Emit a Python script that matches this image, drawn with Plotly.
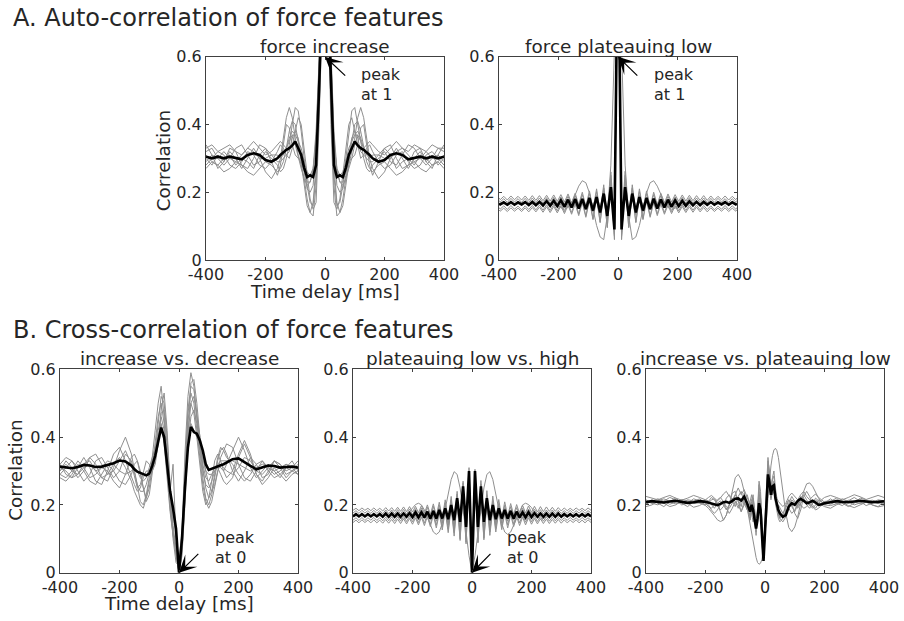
import plotly.graph_objects as go

W, H = 904, 621

# ---------------- lags (ms) ----------------
lag_coarse = list(range(-400, -159, 20)) + list(range(-150, 151, 10)) + list(range(160, 401, 20))
lag_plateau = [-400] + list(range(-396, 397, 12)) + [400]
lag_lowhigh = list(range(-400, 401, 10))
lag_incplat = (list(range(-400, -219, 20)) + list(range(-200, -49, 10)) + list(range(-45, 46, 5))
               + list(range(50, 201, 10)) + list(range(220, 401, 20)))

x_ticks = [-400, -200, 0, 200, 400]
x_tick_labels = ["-400", "-200", "0", "200", "400"]
y_ticks = [0, 0.2, 0.4, 0.6]
y_tick_labels = ["0", "0.2", "0.4", "0.6"]

section_titles = ["A. Auto-correlation of force features", "B. Cross-correlation of force features"]
panel_titles = ["force increase", "force plateauing low", "increase vs. decrease",
                "plateauing low vs. high", "increase vs. plateauing low"]

# ---------------- A1: force increase ----------------
inc_mean = [0.305,0.300,0.305,0.300,0.305,0.300,0.297,0.310,0.315,0.310,0.295,0.290,0.300,
            0.310,0.318,0.325,0.330,0.338,0.350,0.332,0.310,0.272,0.245,0.250,0.245,0.280,0.500,0.780,
            1.000,
            0.780,0.500,0.280,0.245,0.250,0.245,0.272,0.310,0.332,0.350,0.338,0.330,0.325,0.318,0.310,
            0.300,0.290,0.295,0.310,0.315,0.310,0.297,0.300,0.305,0.300,0.305,0.300,0.305]
inc_grey = [
    [0.30,0.28,0.31,0.29,0.32,0.30,0.27,0.30,0.33,0.30,0.26,0.24,0.27,
     0.30,0.36,0.42,0.45,0.42,0.36,0.31,0.28,0.24,0.18,0.14,0.13,0.22,0.45,0.80,1.00,0.80,0.45,0.22,0.13,0.14,0.18,0.24,0.28,0.31,0.36,0.42,0.45,0.42,0.36,0.30,
     0.27,0.24,0.26,0.30,0.33,0.30,0.27,0.30,0.32,0.29,0.31,0.28,0.30],
    [0.32,0.33,0.30,0.28,0.30,0.33,0.34,0.31,0.28,0.29,0.32,0.30,0.28,
     0.26,0.27,0.30,0.34,0.40,0.45,0.44,0.38,0.30,0.22,0.17,0.16,0.25,0.48,0.82,1.00,0.82,0.48,0.25,0.16,0.17,0.22,0.30,0.38,0.44,0.45,0.40,0.34,0.30,0.27,0.26,
     0.28,0.30,0.32,0.29,0.28,0.31,0.34,0.33,0.30,0.28,0.30,0.33,0.32],
    [0.28,0.30,0.32,0.31,0.28,0.27,0.29,0.32,0.31,0.28,0.27,0.29,0.32,
     0.34,0.33,0.31,0.32,0.36,0.38,0.36,0.31,0.25,0.21,0.20,0.22,0.33,0.55,0.84,1.00,0.84,0.55,0.33,0.22,0.20,0.21,0.25,0.31,0.36,0.38,0.36,0.32,0.31,0.33,0.34,
     0.32,0.29,0.27,0.28,0.31,0.32,0.29,0.27,0.28,0.31,0.32,0.30,0.28],
    [0.34,0.31,0.27,0.29,0.33,0.32,0.28,0.27,0.30,0.34,0.33,0.29,0.25,
     0.28,0.34,0.40,0.39,0.34,0.31,0.30,0.29,0.26,0.23,0.23,0.26,0.36,0.58,0.85,1.00,0.85,0.58,0.36,0.26,0.23,0.23,0.26,0.29,0.30,0.31,0.34,0.39,0.40,0.34,0.28,
     0.25,0.29,0.33,0.34,0.30,0.27,0.28,0.32,0.33,0.29,0.27,0.31,0.34],
    [0.29,0.31,0.30,0.32,0.30,0.29,0.31,0.33,0.32,0.30,0.30,0.31,0.31,
     0.30,0.31,0.33,0.36,0.38,0.37,0.35,0.33,0.29,0.26,0.25,0.27,0.34,0.52,0.80,1.00,0.80,0.52,0.34,0.27,0.25,0.26,0.29,0.33,0.35,0.37,0.38,0.36,0.33,0.31,0.30,
     0.31,0.31,0.30,0.30,0.32,0.33,0.31,0.29,0.30,0.32,0.30,0.31,0.29],
    [0.31,0.29,0.28,0.30,0.31,0.28,0.30,0.29,0.27,0.31,0.33,0.31,0.29,
     0.29,0.30,0.31,0.30,0.33,0.38,0.42,0.40,0.33,0.25,0.18,0.15,0.17,0.40,0.76,1.00,0.76,0.40,0.17,0.15,0.18,0.25,0.33,0.40,0.42,0.38,0.33,0.30,0.31,0.30,0.29,
     0.29,0.31,0.33,0.31,0.27,0.29,0.30,0.28,0.31,0.30,0.28,0.29,0.31],
    [0.27,0.29,0.28,0.26,0.27,0.29,0.28,0.26,0.25,0.27,0.29,0.28,0.26,
     0.27,0.29,0.33,0.38,0.41,0.40,0.35,0.29,0.22,0.16,0.14,0.17,0.28,0.50,0.80,1.00,0.80,0.50,0.28,0.17,0.14,0.16,0.22,0.29,0.35,0.40,0.41,0.38,0.33,0.29,0.27,
     0.26,0.28,0.29,0.27,0.25,0.26,0.28,0.29,0.27,0.26,0.28,0.29,0.27],
    [0.33,0.34,0.32,0.33,0.34,0.32,0.31,0.33,0.35,0.33,0.31,0.32,0.34,
     0.35,0.34,0.33,0.35,0.37,0.34,0.30,0.27,0.24,0.22,0.23,0.27,0.38,0.60,0.86,1.00,0.86,0.60,0.38,0.27,0.23,0.22,0.24,0.27,0.30,0.34,0.37,0.35,0.33,0.34,0.35,
     0.34,0.32,0.31,0.33,0.35,0.33,0.32,0.34,0.33,0.32,0.34,0.33,0.33],
]

# ---------------- A2: force plateauing low ----------------
plat_mean = ([0.167,0.164,0.170,0.163,0.171,0.163,0.170,0.164,0.171,0.162,0.172,0.162,0.172,0.161,0.174,0.160,0.175,
              0.159,0.176,0.157,0.178,0.155,0.180,0.152,0.180,0.150,0.183,0.146,0.186,0.140,0.196,0.130,0.215,0.090]
             + [1.0] +
             [0.090,0.215,0.130,0.196,0.140,0.186,0.146,0.183,0.150,0.181,0.152,0.179,0.155,0.178,0.157,0.176,0.159,
              0.175,0.160,0.173,0.161,0.172,0.162,0.172,0.163,0.171,0.163,0.170,0.164,0.171,0.163,0.170,0.164,0.167])
plat_grey = [
    [0.155,0.150,0.160,0.149,0.161,0.150,0.159,0.148,0.160,0.149,0.161,0.148,0.162,0.147,0.163,0.146,0.164,0.145,0.166,0.143,0.168,0.140,0.172,0.136,0.176,0.130,0.182,0.122,0.190,0.112,0.205,0.095,0.250,0.060,
     1.0,
     0.060,0.250,0.095,0.205,0.112,0.190,0.122,0.182,0.130,0.176,0.136,0.172,0.140,0.168,0.143,0.166,0.145,0.164,0.146,0.163,0.147,0.162,0.148,0.161,0.149,0.160,0.148,0.159,0.150,0.161,0.149,0.160,0.150,0.155],
    [0.176,0.171,0.181,0.170,0.182,0.171,0.181,0.170,0.182,0.169,0.183,0.169,0.183,0.168,0.184,0.167,0.185,0.166,0.186,0.165,0.188,0.163,0.190,0.160,0.193,0.156,0.197,0.150,0.202,0.143,0.212,0.130,0.240,0.110,
     1.0,
     0.110,0.240,0.130,0.212,0.143,0.202,0.150,0.197,0.156,0.193,0.160,0.190,0.163,0.188,0.165,0.186,0.166,0.185,0.167,0.184,0.168,0.183,0.169,0.183,0.169,0.182,0.170,0.182,0.171,0.181,0.170,0.181,0.171,0.176],
    [0.166,0.162,0.169,0.161,0.170,0.162,0.169,0.161,0.170,0.160,0.171,0.160,0.171,0.159,0.172,0.158,0.173,0.157,0.174,0.156,0.176,0.154,0.178,0.151,0.181,0.148,0.185,0.142,0.190,0.134,0.200,0.118,0.225,0.075,
     1.0,
     0.075,0.228,0.118,0.200,0.134,0.190,0.142,0.185,0.148,0.181,0.151,0.178,0.154,0.176,0.156,0.174,0.157,0.173,0.158,0.172,0.159,0.171,0.160,0.171,0.160,0.170,0.161,0.169,0.162,0.170,0.161,0.169,0.162,0.166],
    [0.148,0.144,0.153,0.143,0.154,0.144,0.153,0.143,0.154,0.142,0.155,0.142,0.156,0.141,0.157,0.140,0.158,0.139,0.160,0.137,0.162,0.135,0.165,0.131,0.169,0.126,0.175,0.119,0.182,0.110,0.195,0.098,0.235,0.070,
     1.0,
     0.070,0.232,0.098,0.195,0.110,0.182,0.119,0.175,0.126,0.169,0.131,0.165,0.135,0.162,0.137,0.160,0.139,0.158,0.140,0.157,0.141,0.156,0.142,0.155,0.142,0.154,0.143,0.153,0.144,0.154,0.143,0.153,0.144,0.149],
    [0.183,0.178,0.188,0.177,0.189,0.178,0.188,0.177,0.189,0.176,0.190,0.176,0.190,0.175,0.191,0.174,0.192,0.173,0.193,0.171,0.195,0.168,0.197,0.164,0.200,0.158,0.204,0.150,0.210,0.140,0.222,0.120,0.260,0.100,
     1.0,
     0.100,0.262,0.120,0.222,0.140,0.210,0.150,0.204,0.158,0.200,0.164,0.197,0.168,0.195,0.171,0.193,0.173,0.192,0.174,0.191,0.175,0.190,0.176,0.190,0.176,0.189,0.177,0.188,0.178,0.189,0.177,0.188,0.178,0.183],
    [0.166,0.166,0.167,0.165,0.166,0.167,0.165,0.166,0.168,0.167,0.165,0.164,0.166,0.168,0.169,0.167,0.163,0.158,0.153,0.150,0.155,0.170,0.192,0.218,0.234,0.228,0.198,0.150,0.102,0.068,0.060,0.130,0.280,0.620,
     1.0,
     0.620,0.280,0.130,0.060,0.068,0.102,0.150,0.198,0.228,0.234,0.218,0.192,0.170,0.155,0.150,0.153,0.158,0.163,0.167,0.169,0.168,0.166,0.164,0.165,0.167,0.168,0.166,0.165,0.167,0.166,0.165,0.167,0.166,0.166],
]

# ---------------- B1: increase vs. decrease ----------------
incdec_mean = [0.313,0.310,0.308,0.312,0.318,0.316,0.312,0.313,0.318,0.323,0.331,0.328,0.316,
               0.305,0.298,0.294,0.290,0.287,0.292,0.315,0.345,0.385,0.428,0.400,0.310,0.240,0.190,0.130,
               0.000,
               0.100,0.250,0.370,0.430,0.415,0.410,0.390,0.360,0.320,0.303,0.307,0.310,0.315,0.317,0.320,
               0.325,0.335,0.337,0.325,0.315,0.305,0.310,0.316,0.315,0.310,0.312,0.313,0.310]
incdec_grey = [
    [0.30,0.33,0.31,0.28,0.30,0.34,0.32,0.28,0.27,0.31,0.36,0.40,0.35,
     0.30,0.25,0.21,0.20,0.23,0.28,0.34,0.42,0.50,0.55,0.46,0.32,0.20,0.12,0.06,0.00,0.12,0.35,0.52,0.59,0.55,0.45,0.36,0.28,0.22,0.20,0.23,0.28,0.33,0.36,0.37,
     0.35,0.30,0.27,0.30,0.34,0.32,0.28,0.29,0.33,0.32,0.29,0.30,0.31],
    [0.32,0.29,0.28,0.31,0.34,0.31,0.27,0.26,0.30,0.35,0.37,0.33,0.28,
     0.26,0.24,0.25,0.28,0.30,0.30,0.31,0.36,0.45,0.52,0.50,0.40,0.25,0.10,0.03,0.02,0.08,0.28,0.48,0.55,0.54,0.47,0.37,0.30,0.26,0.25,0.27,0.30,0.31,0.29,0.27,
     0.26,0.28,0.34,0.38,0.34,0.29,0.27,0.30,0.33,0.31,0.28,0.30,0.32],
    [0.29,0.31,0.33,0.30,0.27,0.29,0.33,0.34,0.31,0.28,0.30,0.35,0.33,
     0.29,0.26,0.24,0.24,0.26,0.30,0.33,0.36,0.40,0.44,0.38,0.28,0.18,0.11,0.08,0.00,0.05,0.20,0.38,0.46,0.48,0.44,0.38,0.32,0.28,0.27,0.29,0.31,0.32,0.31,0.30,
     0.32,0.36,0.40,0.36,0.31,0.28,0.30,0.32,0.30,0.28,0.31,0.33,0.30],
    [0.31,0.30,0.28,0.29,0.32,0.33,0.30,0.28,0.29,0.32,0.34,0.31,0.27,
     0.24,0.22,0.20,0.19,0.22,0.27,0.30,0.33,0.38,0.48,0.53,0.42,0.26,0.14,0.07,0.03,0.10,0.30,0.47,0.53,0.50,0.42,0.33,0.26,0.21,0.19,0.21,0.25,0.30,0.34,0.36,
     0.38,0.37,0.32,0.28,0.27,0.30,0.33,0.31,0.29,0.30,0.32,0.31,0.29],
    [0.30,0.32,0.30,0.29,0.31,0.32,0.30,0.31,0.33,0.32,0.30,0.29,0.30,
     0.31,0.30,0.28,0.27,0.28,0.31,0.34,0.37,0.40,0.42,0.39,0.33,0.25,0.17,0.10,0.04,0.12,0.28,0.40,0.44,0.42,0.40,0.37,0.33,0.30,0.29,0.29,0.30,0.32,0.33,0.33,
     0.33,0.33,0.32,0.31,0.30,0.31,0.32,0.31,0.30,0.31,0.32,0.31,0.31],
    [0.28,0.27,0.29,0.32,0.30,0.27,0.26,0.29,0.32,0.30,0.27,0.26,0.29,
     0.32,0.33,0.30,0.25,0.22,0.25,0.31,0.38,0.46,0.50,0.44,0.34,0.24,0.32,0.10,0.01,0.10,0.30,0.45,0.50,0.47,0.40,0.31,0.24,0.20,0.22,0.27,0.33,0.35,0.33,0.30,
     0.28,0.30,0.35,0.39,0.35,0.29,0.26,0.28,0.31,0.29,0.27,0.29,0.30],
    [0.32,0.34,0.33,0.31,0.32,0.34,0.35,0.32,0.29,0.30,0.33,0.36,0.32,
     0.28,0.25,0.26,0.30,0.33,0.32,0.30,0.32,0.38,0.47,0.48,0.37,0.22,0.12,0.05,0.00,0.06,0.22,0.40,0.50,0.52,0.46,0.40,0.35,0.30,0.26,0.24,0.26,0.30,0.32,0.31,
     0.30,0.29,0.31,0.34,0.33,0.30,0.29,0.31,0.33,0.32,0.30,0.31,0.33],
    [0.29,0.28,0.30,0.33,0.31,0.28,0.29,0.31,0.30,0.27,0.25,0.29,0.34,
     0.35,0.33,0.29,0.25,0.21,0.23,0.29,0.35,0.42,0.46,0.42,0.30,0.19,0.11,0.06,0.00,0.09,0.25,0.42,0.56,0.57,0.50,0.40,0.31,0.25,0.22,0.24,0.29,0.34,0.37,0.36,
     0.34,0.32,0.29,0.27,0.29,0.32,0.33,0.30,0.28,0.29,0.31,0.30,0.29],
]

# ---------------- B2: plateauing low vs. high ----------------
lowhigh_mean = ([0.166,0.173,0.166,0.173,0.166,0.173,0.166,0.173,0.166,0.173,0.165,0.175,0.165,0.175,0.165,0.175,0.165,0.175,0.165,0.176,
                 0.164,0.178,0.163,0.178,0.163,0.180,0.160,0.182,0.160,0.185,0.160,0.190,0.158,0.200,0.155,0.220,0.150,0.255,0.135,0.300]
                + [0.0] +
                [0.300,0.135,0.255,0.150,0.220,0.155,0.200,0.158,0.190,0.160,0.185,0.160,0.182,0.160,0.180,0.163,0.178,0.163,0.178,0.164,
                 0.176,0.165,0.175,0.165,0.175,0.165,0.175,0.165,0.175,0.165,0.173,0.166,0.173,0.166,0.173,0.166,0.173,0.166,0.173,0.166])
lowhigh_grey = [
    [0.155,0.162,0.154,0.163,0.154,0.162,0.155,0.163,0.154,0.162,0.153,0.164,0.153,0.165,0.152,0.165,0.152,0.166,0.151,0.167,
     0.150,0.169,0.148,0.171,0.146,0.173,0.143,0.176,0.140,0.180,0.135,0.186,0.128,0.195,0.118,0.212,0.100,0.245,0.085,0.290,
     0.02,
     0.285,0.088,0.240,0.102,0.210,0.120,0.193,0.130,0.185,0.136,0.179,0.141,0.175,0.144,0.172,0.147,0.170,0.149,0.168,0.150,
     0.167,0.151,0.166,0.152,0.165,0.152,0.164,0.153,0.163,0.154,0.162,0.154,0.163,0.155,0.162,0.154,0.163,0.155,0.162,0.155],
    [0.176,0.183,0.175,0.184,0.176,0.183,0.175,0.184,0.175,0.183,0.174,0.185,0.174,0.185,0.173,0.186,0.173,0.187,0.172,0.188,
     0.171,0.189,0.169,0.191,0.167,0.193,0.164,0.196,0.160,0.200,0.155,0.206,0.148,0.215,0.138,0.232,0.125,0.265,0.110,0.310,
     0.05,
     0.305,0.112,0.262,0.127,0.230,0.140,0.213,0.150,0.204,0.156,0.199,0.161,0.195,0.165,0.192,0.168,0.190,0.170,0.188,0.172,
     0.187,0.173,0.186,0.173,0.185,0.174,0.185,0.174,0.184,0.175,0.183,0.175,0.184,0.175,0.183,0.176,0.184,0.175,0.183,0.176],
    [0.167,0.172,0.166,0.173,0.166,0.172,0.167,0.173,0.166,0.172,0.165,0.174,0.165,0.174,0.164,0.175,0.164,0.176,0.163,0.177,
     0.162,0.178,0.160,0.180,0.158,0.182,0.155,0.185,0.152,0.190,0.147,0.197,0.140,0.207,0.130,0.225,0.115,0.255,0.100,0.300,
     0.01,
     0.300,0.100,0.255,0.115,0.225,0.130,0.207,0.140,0.197,0.147,0.190,0.152,0.185,0.155,0.182,0.158,0.180,0.160,0.178,0.162,
     0.177,0.163,0.176,0.164,0.175,0.164,0.174,0.165,0.174,0.165,0.173,0.166,0.172,0.167,0.173,0.166,0.172,0.166,0.173,0.167],
    [0.148,0.155,0.147,0.156,0.148,0.155,0.147,0.156,0.147,0.155,0.146,0.157,0.146,0.157,0.145,0.158,0.145,0.159,0.144,0.160,
     0.143,0.162,0.141,0.164,0.139,0.166,0.136,0.170,0.132,0.175,0.126,0.182,0.118,0.192,0.108,0.210,0.095,0.238,0.090,0.270,
     0.03,
     0.272,0.090,0.236,0.097,0.208,0.110,0.190,0.120,0.180,0.127,0.174,0.132,0.170,0.136,0.166,0.139,0.164,0.141,0.162,0.143,
     0.160,0.144,0.159,0.145,0.158,0.145,0.157,0.146,0.157,0.146,0.156,0.147,0.155,0.148,0.156,0.147,0.155,0.147,0.156,0.148],
    [0.184,0.190,0.183,0.191,0.184,0.190,0.183,0.191,0.183,0.190,0.182,0.192,0.182,0.192,0.181,0.193,0.181,0.194,0.180,0.195,
     0.179,0.196,0.177,0.198,0.175,0.200,0.172,0.203,0.168,0.208,0.162,0.215,0.155,0.225,0.145,0.240,0.130,0.270,0.120,0.295,
     0.04,
     0.298,0.118,0.272,0.128,0.242,0.143,0.226,0.154,0.216,0.161,0.209,0.167,0.204,0.171,0.201,0.174,0.199,0.176,0.197,0.178,
     0.196,0.179,0.195,0.180,0.194,0.181,0.193,0.181,0.192,0.182,0.191,0.183,0.190,0.183,0.191,0.184,0.190,0.183,0.191,0.184],
    [0.168,0.168,0.169,0.168,0.167,0.168,0.169,0.168,0.167,0.168,0.169,0.168,0.167,0.167,0.168,0.165,0.160,0.158,0.163,0.180,
     0.192,0.201,0.205,0.200,0.185,0.165,0.140,0.120,0.113,0.120,0.145,0.185,0.230,0.275,0.298,0.290,0.250,0.190,0.120,0.050,
     0.0,
     0.050,0.120,0.190,0.250,0.290,0.298,0.275,0.230,0.185,0.145,0.120,0.113,0.120,0.140,0.165,0.185,0.200,0.205,0.201,0.192,
     0.180,0.165,0.158,0.160,0.165,0.168,0.167,0.167,0.168,0.169,0.168,0.167,0.168,0.169,0.168,0.167,0.168,0.169,0.168,0.168],
]

# ---------------- B3: increase vs. plateauing low ----------------
incplat_mean = ([0.208,0.211,0.209,0.207,0.210,0.212,0.209,0.206,0.208,0.211]
                + [0.209,0.206,0.204,0.201,0.199,0.203,0.208,0.209,0.206,0.212,0.218,0.219,0.213,0.224,0.205,0.180]
                + [0.200,0.185,0.150,0.130,0.160,0.205,0.185,0.090,0.035,0.120,0.230,0.290,0.265,0.230,0.255,0.258,0.220,0.200,0.185]
                + [0.175,0.165,0.170,0.195,0.205,0.200,0.212,0.218,0.212,0.205,0.208,0.212,0.207,0.200,0.202,0.205]
                + [0.208,0.211,0.209,0.208,0.210,0.212,0.210,0.208,0.209,0.211])
incplat_grey = [
    [0.200,0.215,0.205,0.195,0.210,0.220,0.205,0.195,0.210,0.218,
     0.205,0.195,0.190,0.200,0.215,0.222,0.210,0.195,0.190,0.205,0.230,0.215,0.195,0.235,0.200,0.165,
     0.210,0.230,0.180,0.120,0.170,0.260,0.220,0.100,0.060,0.150,0.280,0.340,0.290,0.240,0.275,0.285,0.230,0.190,0.170,
     0.160,0.150,0.165,0.205,0.225,0.210,0.195,0.215,0.230,0.215,0.200,0.190,0.200,0.215,0.210,0.200,
     0.210,0.220,0.205,0.195,0.205,0.220,0.215,0.200,0.195,0.210],
    [0.215,0.205,0.200,0.210,0.222,0.215,0.200,0.205,0.218,0.212,
     0.200,0.210,0.222,0.215,0.198,0.185,0.195,0.220,0.230,0.210,0.195,0.225,0.240,0.205,0.185,0.210,
     0.230,0.200,0.140,0.110,0.180,0.240,0.200,0.080,0.040,0.140,0.260,0.320,0.280,0.220,0.260,0.270,0.215,0.185,0.200,
     0.190,0.175,0.190,0.215,0.195,0.180,0.200,0.225,0.220,0.200,0.190,0.205,0.220,0.212,0.198,0.205,
     0.218,0.205,0.198,0.212,0.222,0.210,0.198,0.205,0.215,0.212],
    [0.195,0.200,0.210,0.205,0.195,0.200,0.212,0.205,0.193,0.198,
     0.210,0.200,0.185,0.175,0.185,0.200,0.205,0.190,0.175,0.190,0.210,0.200,0.180,0.210,0.190,0.155,
     0.180,0.210,0.165,0.135,0.150,0.230,0.195,0.110,0.070,0.120,0.220,0.300,0.250,0.215,0.240,0.245,0.205,0.175,0.160,
     0.150,0.160,0.180,0.190,0.175,0.185,0.205,0.200,0.190,0.195,0.205,0.195,0.185,0.190,0.200,0.195,
     0.190,0.200,0.208,0.198,0.192,0.200,0.208,0.200,0.194,0.198],
    [0.225,0.220,0.215,0.222,0.228,0.220,0.214,0.220,0.228,0.222,
     0.215,0.222,0.228,0.220,0.212,0.220,0.232,0.240,0.225,0.215,0.230,0.250,0.230,0.245,0.220,0.200,
     0.215,0.220,0.190,0.150,0.190,0.270,0.240,0.120,0.050,0.100,0.250,0.330,0.300,0.250,0.280,0.300,0.250,0.220,0.210,
     0.205,0.195,0.205,0.225,0.235,0.225,0.215,0.230,0.240,0.225,0.215,0.225,0.232,0.222,0.215,0.222,
     0.228,0.222,0.215,0.222,0.230,0.224,0.216,0.222,0.228,0.222],
    [0.205,0.212,0.218,0.210,0.202,0.208,0.216,0.212,0.204,0.206,
     0.215,0.212,0.200,0.190,0.205,0.212,0.200,0.185,0.200,0.220,0.210,0.190,0.215,0.222,0.190,0.170,
     0.195,0.205,0.170,0.140,0.165,0.215,0.180,0.100,0.050,0.110,0.240,0.310,0.270,0.225,0.250,0.265,0.225,0.190,0.175,
     0.165,0.170,0.180,0.200,0.215,0.205,0.190,0.205,0.215,0.210,0.198,0.205,0.215,0.205,0.200,0.210,
     0.212,0.204,0.206,0.214,0.210,0.204,0.208,0.214,0.208,0.204],
    [0.210,0.205,0.212,0.218,0.210,0.203,0.207,0.215,0.212,0.205,
     0.200,0.205,0.215,0.218,0.205,0.180,0.155,0.170,0.205,0.235,0.240,0.210,0.180,0.200,0.230,0.200,
     0.170,0.150,0.170,0.160,0.140,0.200,0.220,0.140,0.080,0.110,0.200,0.280,0.300,0.260,0.230,0.240,0.235,0.205,0.180,
     0.160,0.170,0.200,0.215,0.205,0.175,0.160,0.185,0.225,0.240,0.225,0.200,0.190,0.205,0.215,0.208,
     0.202,0.210,0.218,0.210,0.200,0.206,0.214,0.210,0.204,0.208],
    [0.210,0.210,0.209,0.211,0.212,0.210,0.208,0.209,0.210,0.206,
     0.198,0.190,0.180,0.168,0.156,0.151,0.155,0.170,0.200,0.240,0.280,0.290,0.275,0.240,0.190,0.140,
     0.115,0.090,0.065,0.045,0.030,0.025,0.028,0.040,0.070,0.110,0.160,0.220,0.270,0.315,0.345,0.362,0.367,0.360,0.340,
     0.310,0.240,0.175,0.133,0.121,0.135,0.165,0.205,0.240,0.262,0.265,0.255,0.238,0.220,0.208,0.200,
     0.198,0.203,0.208,0.210,0.209,0.210,0.211,0.210,0.209,0.210],
]

# sanity checks on lengths
for lags, greys, mean in [(lag_coarse, inc_grey, inc_mean), (lag_plateau, plat_grey, plat_mean),
                          (lag_coarse, incdec_grey, incdec_mean), (lag_lowhigh, lowhigh_grey, lowhigh_mean),
                          (lag_incplat, incplat_grey, incplat_mean)]:
    assert len(mean) == len(lags), (len(mean), len(lags))
    for g in greys:
        assert len(g) == len(lags), (len(g), len(lags))

# ---------------- figure ----------------
GREY = "#8f8f8f"
TXT = "#262626"
FONT = "DejaVu Sans"

panels = [
    (lag_coarse, inc_grey, inc_mean),
    (lag_plateau, plat_grey, plat_mean),
    (lag_coarse, incdec_grey, incdec_mean),
    (lag_lowhigh, lowhigh_grey, lowhigh_mean),
    (lag_incplat, incplat_grey, incplat_mean),
]
# pixel boxes (left, right, top, bottom)
boxes = [(206, 444, 56.7, 260), (499, 737, 56.7, 260),
         (60, 298, 369.3, 572.7), (353, 591, 369.3, 572.7), (646, 884, 369.3, 572.7)]

fig = go.Figure()
layout = dict(width=W, height=H, margin=dict(l=0, r=0, t=0, b=0, pad=0), autosize=False,
              paper_bgcolor="white", plot_bgcolor="white", showlegend=False,
              font=dict(family=FONT, color=TXT, size=16))

for i, ((lags, greys, mean), (l, r, t, b)) in enumerate(zip(panels, boxes), start=1):
    sfx = "" if i == 1 else str(i)
    for g in greys:
        fig.add_trace(go.Scatter(x=lags, y=g, mode="lines", line=dict(color=GREY, width=1),
                                 xaxis="x" + sfx, yaxis="y" + sfx, hoverinfo="skip"))
    fig.add_trace(go.Scatter(x=lags, y=mean, mode="lines", line=dict(color="black", width=2.6),
                             xaxis="x" + sfx, yaxis="y" + sfx, hoverinfo="skip"))
    common = dict(showgrid=False, zeroline=False, showline=True, linecolor="#404040", linewidth=1,
                  mirror="ticks", ticks="inside", ticklen=3, tickwidth=1, tickcolor="#404040",
                  automargin=False,
                  tickfont=dict(family=FONT, size=16, color=TXT), fixedrange=True)
    layout["xaxis" + sfx] = dict(domain=[l / W, r / W], anchor="y" + sfx, range=[-400, 400],
                                 tickmode="array", tickvals=x_ticks, ticktext=x_tick_labels, **common)
    layout["yaxis" + sfx] = dict(domain=[1 - b / H, 1 - t / H], anchor="x" + sfx, range=[0, 0.6],
                                 tickmode="array", tickvals=y_ticks, ticktext=y_tick_labels, **common)

ann = []
def paper_text(px, py, text, size, xanchor="center", angle=0):
    ann.append(dict(x=px / W, y=1 - py / H, xref="paper", yref="paper", text=text, showarrow=False,
                    xanchor=xanchor, yanchor="middle", textangle=angle,
                    font=dict(family=FONT, size=size, color=TXT)))

paper_text(11, 18.2, section_titles[0], 24, xanchor="left")
paper_text(11, 330, section_titles[1], 24, xanchor="left")
for (l, r, t, b), title in zip(boxes, panel_titles):
    paper_text((l + r) / 2, t - 10.6, title, 18.4)
paper_text(325, 291, "Time delay [ms]", 18.4)
paper_text(179, 603.7, "Time delay [ms]", 18.4)
paper_text(163.5, 160.8, "Correlation", 18.4, angle=-90)
paper_text(15.3, 470.5, "Correlation", 18.4, angle=-90)

# arrows and "peak" labels
arrow_specs = [("", 0, 0.6, 73, 0.54, "at 1", 0.548, 0.489, 115),
               ("2", 0, 0.6, 70, 0.54, "at 1", 0.548, 0.489, 115),
               ("3", 0, 0.0, 70, 0.06, "at 0", 0.1026, 0.0435, 115),
               ("4", 0, 0.0, 67, 0.06, "at 0", 0.1026, 0.0435, 112)]
for sfx, hx, hy, tx, ty, lbl, y1, y2, lx in arrow_specs:
    ann.append(dict(x=hx, y=hy, xref="x" + sfx, yref="y" + sfx, ax=tx, ay=ty,
                    axref="x" + sfx, ayref="y" + sfx, text="", showarrow=True,
                    arrowhead=3, arrowsize=2.4, arrowwidth=1.2, arrowcolor="black",
                    standoff=0, startstandoff=0))
    for yy, s in [(y1, "peak"), (y2, lbl)]:
        ann.append(dict(x=lx, y=yy, xref="x" + sfx, yref="y" + sfx, text=s, showarrow=False,
                        xanchor="left", yanchor="middle", font=dict(family=FONT, size=16, color=TXT)))

layout["annotations"] = ann
fig.update_layout(**layout)
fig.write_html("out.html")
